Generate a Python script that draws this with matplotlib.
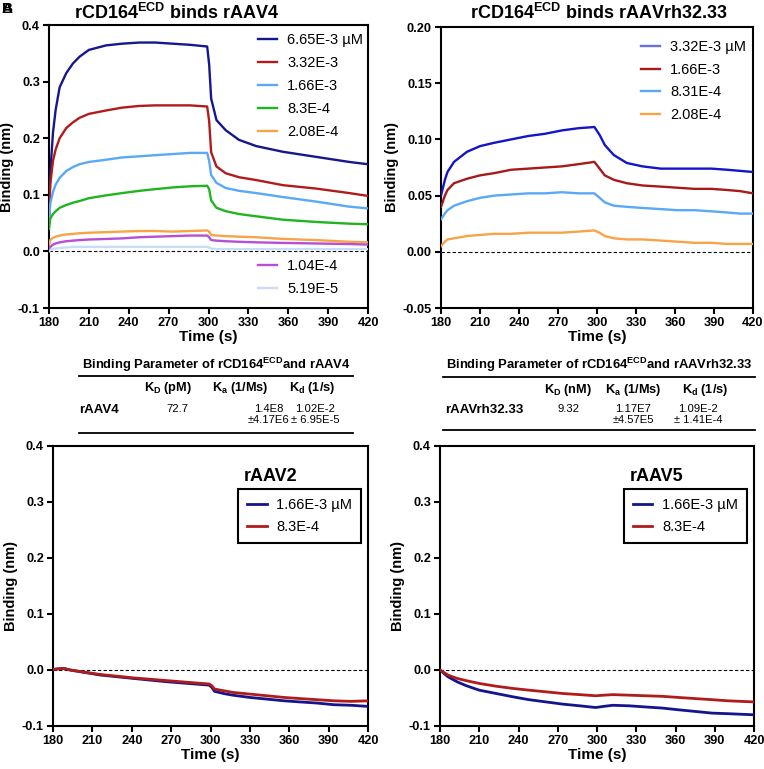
"""BLI sensorgrams of rCD164 ECD binding to rAAV serotypes."""

import matplotlib

matplotlib.use("Agg")
import matplotlib.pyplot as plt
from matplotlib.lines import Line2D

plt.rcParams["font.family"] = ["Liberation Sans", "DejaVu Sans"]
plt.rcParams["mathtext.fontset"] = "custom"
plt.rcParams["mathtext.rm"] = "Liberation Sans"
plt.rcParams["mathtext.bf"] = "Liberation Sans:bold"
plt.rcParams["mathtext.it"] = "Liberation Sans:italic"

# --- panel A (rAAV4) ---
t_aav4 = [180, 181, 183, 185, 188, 193, 198, 203, 210, 223, 235, 248, 260, 273,
          286, 299, 300.5, 302, 306, 313, 323, 336, 356, 381, 406, 420]
aav4_labels = ["6.65E-3 µM", "3.32E-3", "1.66E-3", "8.3E-4", "2.08E-4",
               "1.04E-4", "5.19E-5"]
aav4_colors = ["#15178c", "#b01c1c", "#5aa9f7", "#1fb51f", "#f8a446",
               "#b64ed6", "#c9ddf6"]
aav4_665 = [0.06, 0.14, 0.21, 0.25, 0.29, 0.315, 0.332, 0.344, 0.356, 0.364,
            0.367, 0.369, 0.369, 0.367, 0.365, 0.362, 0.33, 0.27, 0.232, 0.214,
            0.197, 0.186, 0.176, 0.167, 0.158, 0.154]
aav4_332 = [0.06, 0.12, 0.16, 0.18, 0.20, 0.218, 0.228, 0.236, 0.243, 0.249,
            0.254, 0.257, 0.258, 0.258, 0.258, 0.256, 0.23, 0.175, 0.150, 0.138,
            0.131, 0.126, 0.117, 0.111, 0.103, 0.098]
aav4_166 = [0.05, 0.085, 0.105, 0.118, 0.13, 0.142, 0.149, 0.154, 0.158, 0.162,
            0.166, 0.168, 0.170, 0.172, 0.174, 0.174, 0.16, 0.135, 0.121, 0.112,
            0.107, 0.103, 0.096, 0.088, 0.079, 0.076]
aav4_083 = [0.04, 0.058, 0.066, 0.071, 0.077, 0.082, 0.086, 0.089, 0.094, 0.099,
            0.103, 0.107, 0.110, 0.113, 0.115, 0.116, 0.11, 0.09, 0.077, 0.071,
            0.066, 0.062, 0.056, 0.052, 0.049, 0.048]
aav4_021 = [0.012, 0.02, 0.024, 0.026, 0.028, 0.03, 0.031, 0.032, 0.033, 0.034,
            0.035, 0.036, 0.036, 0.035, 0.036, 0.037, 0.035, 0.029, 0.028, 0.027,
            0.026, 0.025, 0.022, 0.020, 0.017, 0.016]
aav4_010 = [0.004, 0.008, 0.012, 0.014, 0.016, 0.018, 0.019, 0.020, 0.021, 0.022,
            0.023, 0.025, 0.026, 0.027, 0.028, 0.028, 0.025, 0.02, 0.019, 0.018,
            0.017, 0.016, 0.015, 0.014, 0.013, 0.012]
aav4_005 = [0.0, 0.002, 0.004, 0.005, 0.006, 0.007, 0.008, 0.008, 0.008, 0.008,
            0.008, 0.008, 0.008, 0.008, 0.008, 0.008, 0.007, 0.005, 0.004, 0.004,
            0.004, 0.004, 0.004, 0.004, 0.004, 0.004]

# --- panel B (rAAVrh32.33) ---
t_rh32 = [180, 183, 185, 190, 200, 210, 221, 234, 247, 260, 273, 286, 298, 302,
          306, 313, 323, 335, 349, 362, 375, 388, 400, 410, 420]
rh32_labels = ["3.32E-3 µM", "1.66E-3", "8.31E-4", "2.08E-4"]
rh32_colors = ["#1414c8", "#a51a1a", "#5aa9f7", "#f8a446"]
rh32_332 = [0.05, 0.064, 0.071, 0.080, 0.089, 0.094, 0.097, 0.100, 0.103, 0.105,
            0.108, 0.110, 0.111, 0.104, 0.095, 0.086, 0.079, 0.076, 0.074, 0.074,
            0.074, 0.074, 0.073, 0.072, 0.071]
rh32_166 = [0.040, 0.050, 0.055, 0.061, 0.065, 0.068, 0.070, 0.073, 0.074, 0.075,
            0.076, 0.078, 0.080, 0.074, 0.068, 0.064, 0.061, 0.059, 0.058, 0.057,
            0.056, 0.056, 0.055, 0.054, 0.052]
rh32_083 = [0.029, 0.034, 0.037, 0.041, 0.045, 0.048, 0.050, 0.051, 0.052, 0.052,
            0.053, 0.052, 0.052, 0.048, 0.044, 0.041, 0.040, 0.039, 0.038, 0.037,
            0.037, 0.036, 0.035, 0.034, 0.034]
rh32_021 = [0.005, 0.009, 0.011, 0.012, 0.014, 0.015, 0.016, 0.016, 0.017, 0.017,
            0.017, 0.018, 0.019, 0.017, 0.014, 0.012, 0.011, 0.011, 0.010, 0.009,
            0.008, 0.008, 0.007, 0.007, 0.007]

# --- panels C / D (rAAV2, rAAV5) ---
neg_labels = ["1.66E-3 µM", "8.3E-4"]
neg_colors = ["#14148c", "#b01c1c"]
t_aav2 = [180, 188, 193, 216, 241, 267, 299, 301, 303, 310, 317, 330, 343, 356,
          368, 381, 394, 407, 420]
aav2_166 = [0.001, 0.003, 0.0, -0.009, -0.015, -0.021, -0.027, -0.031, -0.038,
            -0.042, -0.045, -0.049, -0.052, -0.055, -0.057, -0.059, -0.062,
            -0.063, -0.065]
aav2_083 = [0.001, 0.003, 0.0, -0.008, -0.014, -0.019, -0.025, -0.028, -0.034,
            -0.037, -0.040, -0.043, -0.046, -0.049, -0.051, -0.053, -0.055,
            -0.056, -0.055]
t_aav5 = [180, 186, 193, 200, 210, 223, 236, 248, 261, 274, 287, 299, 305, 312,
          325, 337, 350, 362, 375, 388, 400, 410, 420]
aav5_166 = [0.0, -0.012, -0.021, -0.028, -0.036, -0.042, -0.048, -0.053, -0.057,
            -0.061, -0.064, -0.067, -0.065, -0.063, -0.064, -0.066, -0.068,
            -0.071, -0.074, -0.077, -0.078, -0.079, -0.080]
aav5_083 = [0.0, -0.009, -0.015, -0.019, -0.024, -0.029, -0.033, -0.036, -0.039,
            -0.042, -0.044, -0.046, -0.045, -0.044, -0.045, -0.046, -0.047,
            -0.049, -0.051, -0.053, -0.055, -0.056, -0.057]

x_ticks = [180, 210, 240, 270, 300, 330, 360, 390, 420]

W, H = 764, 769
fig = plt.figure(figsize=(W / 100, H / 100), dpi=100)


def px_axes(left, top, right, bottom):
    return fig.add_axes([left / W, 1 - bottom / H, (right - left) / W,
                         (bottom - top) / H])


def style_axes(ax, ylim, yticks, yfmt):
    ax.set_xlim(180, 420)
    ax.set_ylim(*ylim)
    ax.set_xticks(x_ticks)
    ax.set_yticks(yticks)
    ax.set_yticklabels([yfmt.format(v) for v in yticks])
    for s in ax.spines.values():
        s.set_linewidth(1.5)
    ax.tick_params(direction="out", length=4.5, width=1.5, labelsize=9.2, pad=2)
    for lab in ax.get_xticklabels() + ax.get_yticklabels():
        lab.set_fontweight("bold")
    ax.axhline(0, color="black", linewidth=0.8, linestyle=(0, (3, 2)), zorder=1)
    ax.set_xlabel("Time (s)", fontsize=11, fontweight="bold", labelpad=1)
    ax.set_ylabel("Binding (nm)", fontsize=10.5, fontweight="bold", labelpad=3)


leg_kw = dict(frameon=False, fontsize=10.5, handlelength=1.3,
              handletextpad=0.7, labelspacing=0.62, borderpad=0,
              borderaxespad=0, loc="upper left")

# panel A
ax_a = px_axes(49, 25, 368, 308)
series_a = [aav4_665, aav4_332, aav4_166, aav4_083, aav4_021, aav4_010, aav4_005]
lines_a = []
for vals, col, lab in zip(series_a, aav4_colors, aav4_labels):
    (ln,) = ax_a.plot(t_aav4, vals, color=col, linewidth=1.7, label=lab, zorder=3)
    lines_a.append(ln)
style_axes(ax_a, (-0.1, 0.4), [-0.1, 0.0, 0.1, 0.2, 0.3, 0.4], "{:.1f}")
leg1 = ax_a.legend(handles=lines_a[:5], bbox_to_anchor=(0.655, 0.972), **leg_kw)
ax_a.add_artist(leg1)
ax_a.legend(handles=lines_a[5:], bbox_to_anchor=(0.655, 0.172), **leg_kw)
fig.text(177 / W, 1 - 13 / H, r"rCD164$^{\mathbf{ECD}}$ binds rAAV4",
         ha="center", va="center", fontsize=13, fontweight="bold")

# panel B
ax_b = px_axes(441, 27, 753, 308)
series_b = [rh32_332, rh32_166, rh32_083, rh32_021]
lines_b = []
for vals, col, lab in zip(series_b, rh32_colors, rh32_labels):
    (ln,) = ax_b.plot(t_rh32, vals, color=col, linewidth=1.7, label=lab, zorder=3)
    lines_b.append(ln)
style_axes(ax_b, (-0.05, 0.2), [-0.05, 0.0, 0.05, 0.10, 0.15, 0.20], "{:.2f}")
leg_b = ax_b.legend(handles=lines_b, bbox_to_anchor=(0.641, 0.952),
                    **{**leg_kw, "labelspacing": 0.58})
leg_b.legend_handles[0].set_color("#6f6fdc")
fig.text(599 / W, 1 - 13 / H, r"rCD164$^{\mathbf{ECD}}$ binds rAAVrh32.33",
         ha="center", va="center", fontsize=13, fontweight="bold")

# panels C and D
for rect, t, s1, s2, name, lx in [
    ((53, 446, 368, 726), t_aav2, aav2_166, aav2_083, "rAAV2", 0.587),
    ((440, 446, 754, 726), t_aav5, aav5_166, aav5_083, "rAAV5", 0.585),
]:
    ax = px_axes(*rect)
    ax.plot(t, s1, color=neg_colors[0], linewidth=2.0, label=neg_labels[0], zorder=3)
    ax.plot(t, s2, color=neg_colors[1], linewidth=2.0, label=neg_labels[1], zorder=3)
    style_axes(ax, (-0.1, 0.4), [-0.1, 0.0, 0.1, 0.2, 0.3, 0.4], "{:.1f}")
    leg = ax.legend(loc="upper left", bbox_to_anchor=(lx, 0.846), fontsize=10.5,
                    fancybox=False, edgecolor="black", framealpha=1,
                    handlelength=1.35, handletextpad=0.65, labelspacing=0.55,
                    borderpad=0.62, borderaxespad=0)
    leg.get_frame().set_linewidth(1.5)
    ax.text(lx + 0.018, 0.89, name, transform=ax.transAxes, ha="left",
            va="center", fontsize=13, fontweight="bold")


# kinetic tables
def table(x0, x1, y_title, y_top, y_head, y_row, y_bot, title, rows):
    fig.text((x0 + x1) / 2 / W, 1 - y_title / H, title, ha="center",
             va="center", fontsize=9.4, fontweight="bold")
    for y in (y_top, y_bot):
        fig.add_artist(Line2D([x0 / W, x1 / W], [1 - y / H, 1 - y / H],
                              color="black", linewidth=1.3))
    for x, txt in rows["head"]:
        fig.text(x / W, 1 - y_head / H, txt, ha="center", va="center",
                 fontsize=9.2, fontweight="bold")
    lx, lab = rows["name"]
    fig.text(lx / W, 1 - y_row / H, lab, ha="left", va="center", fontsize=9.5,
             fontweight="bold")
    for x, txt in rows["vals"]:
        fig.text(x / W, 1 - (y_row - 6) / H, txt, ha="center", va="top",
                 fontsize=8.1, linespacing=1.15)


table(79, 353, 365, 376, 388, 410, 433,
      r"Binding Parameter of rCD164$^{\mathbf{ECD}}$and rAAV4",
      {"head": [(168, r"K$_{\mathbf{D}}$ (pM)"), (240, r"K$_{\mathbf{a}}$ (1/Ms)"),
                (312, r"K$_{\mathbf{d}}$ (1/s)")],
       "name": (79, "rAAV4"),
       "vals": [(177, "72.7"), (269, "1.4E8\n±4.17E6"),
                (315, "1.02E-2\n± 6.95E-5")]})
table(443, 755, 365, 377, 390, 410, 430,
      r"Binding Parameter of rCD164$^{\mathbf{ECD}}$and rAAVrh32.33",
      {"head": [(568, r"K$_{\mathbf{D}}$ (nM)"), (633, r"K$_{\mathbf{a}}$ (1/Ms)"),
                (705, r"K$_{\mathbf{d}}$ (1/s)")],
       "name": (445, "rAAVrh32.33"),
       "vals": [(569, "9.32"), (633, "1.17E7\n±4.57E5"),
                (698, "1.09E-2\n± 1.41E-4")]})

fig.text(2 / W, 1 - 9 / H, "A", ha="left", va="center", fontsize=11,
         fontweight="bold")
fig.text(2 / W, 1 - 9 / H, "B", ha="left", va="center", fontsize=11,
         fontweight="bold")

fig.savefig("out.png", dpi=100)
